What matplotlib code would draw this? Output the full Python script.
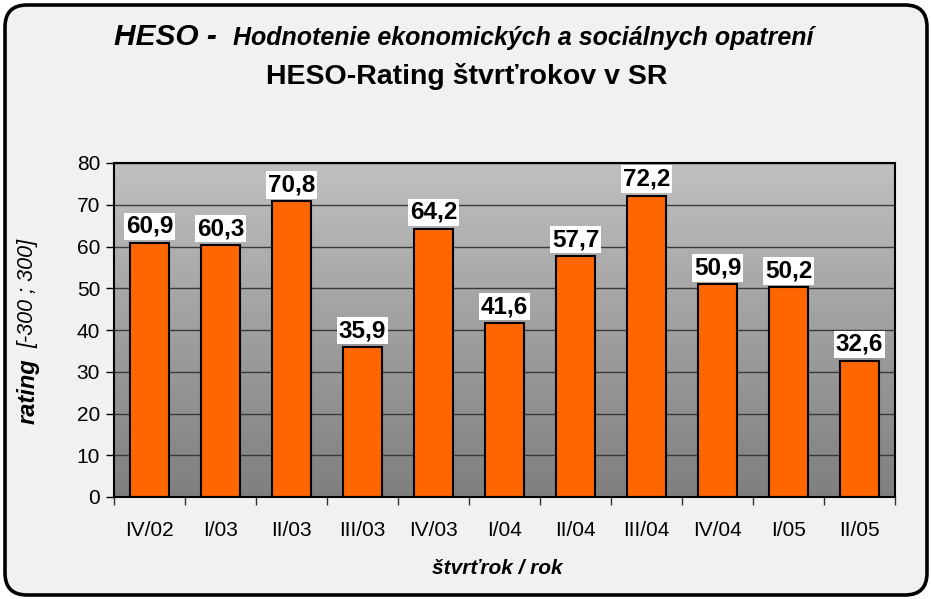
import matplotlib.pyplot as plt
import numpy as np
from matplotlib.patches import FancyBboxPatch
from matplotlib.colors import LinearSegmentedColormap
from matplotlib.transforms import IdentityTransform

quarters = ['IV/02', 'I/03', 'II/03', 'III/03', 'IV/03', 'I/04',
            'II/04', 'III/04', 'IV/04', 'I/05', 'II/05']
rating = [60.9, 60.3, 70.8, 35.9, 64.2, 41.6, 57.7, 72.2, 50.9, 50.2, 32.6]
y_ticks = [0, 10, 20, 30, 40, 50, 60, 70, 80]

plt.rcParams['font.family'] = ['Liberation Sans', 'DejaVu Sans']

W, H = 931, 599
fig = plt.figure(figsize=(W / 100, H / 100), dpi=100)
fig.patch.set_facecolor('white')

# rounded frame of the chart (pixel coords, origin bottom left)
frame = FancyBboxPatch((5, 4), 922, 590,
                       boxstyle='round,pad=0,rounding_size=22',
                       transform=IdentityTransform(), facecolor='#f1f1f1',
                       edgecolor='black', linewidth=2.6, zorder=-10)
fig.patches.append(frame)

ax = fig.add_axes([114 / W, 1 - 497 / H, (895 - 114) / W, (497 - 163) / H])
ax.set_facecolor('none')

# gray gradient behind the bars
grad = np.linspace(0, 1, 256).reshape(-1, 1)
ax.imshow(grad, extent=[0, 1, 0, 1], transform=ax.transAxes, aspect='auto',
          cmap=LinearSegmentedColormap.from_list('g', ['#c0c0c0', '#7f7f7f']),
          zorder=0)

x = np.arange(len(quarters))
ax.bar(x, rating, width=0.55, color='#ff6600', edgecolor='black',
       linewidth=1.5, zorder=3)

for xi, v in zip(x, rating):
    ax.text(xi, v + 1.2, f'{v:.1f}'.replace('.', ','), ha='center',
            va='bottom', fontsize=17.5, fontweight='bold', zorder=4,
            bbox=dict(facecolor='white', edgecolor='none', pad=1.5))

ax.set_xlim(-0.5, len(quarters) - 0.5)
ax.set_ylim(0, 80)
ax.set_yticks(y_ticks)
ax.yaxis.grid(True, color='#3a3a3a', linewidth=1.0)
for gl in ax.get_ygridlines():
    gl.set_zorder(1)

ax.set_xticks(np.arange(-0.5, len(quarters)), minor=False)
ax.set_xticklabels([])
ax.set_xticks(x, minor=True)
ax.set_xticklabels(quarters, minor=True)
ax.tick_params(axis='x', which='minor', length=0, pad=17, labelsize=15)
ax.tick_params(axis='x', which='major', length=6, width=1, color='#333333')
ax.tick_params(axis='y', length=6, width=1, labelsize=15, pad=4)

for sp in ax.spines.values():
    sp.set_linewidth(1.5)
    sp.set_zorder(5)

# titles
fig.text(114 / W, 1 - 45 / H, 'HESO -', fontsize=21.5, fontweight='bold',
         fontstyle='italic', va='baseline', ha='left')
fig.text(233 / W, 1 - 45 / H,
         'Hodnotenie ekonomických a sociálnych opatrení', fontsize=18,
         fontweight='bold', fontstyle='italic', va='baseline', ha='left')
fig.text(467 / W, 1 - 84 / H, 'HESO-Rating štvrťrokov v SR', fontsize=20.5,
         fontweight='bold', ha='center', va='baseline')

fig.text(28 / W, 1 - 391 / H, 'rating', rotation=90, fontsize=17,
         fontweight='bold', fontstyle='italic', ha='center', va='center')
fig.text(28 / W, 1 - 293 / H, '[-300 ; 300]', rotation=90, fontsize=15.5,
         fontstyle='italic', ha='center', va='center')
fig.text(497 / W, 1 - 568 / H, 'štvrťrok / rok', fontsize=15,
         fontweight='bold', fontstyle='italic', ha='center', va='center')

fig.savefig('out.png', dpi=100, facecolor='white')
